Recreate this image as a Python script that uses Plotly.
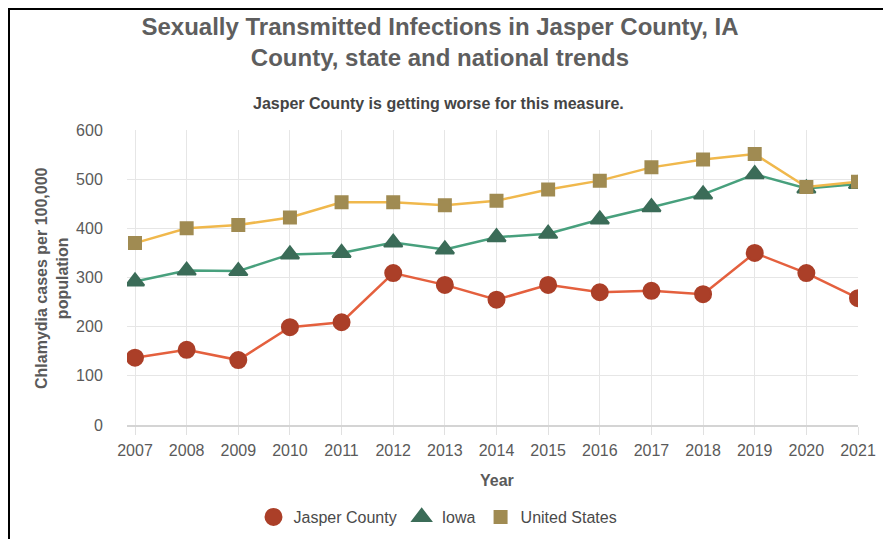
import plotly.graph_objects as go

years = [2007, 2008, 2009, 2010, 2011, 2012, 2013, 2014, 2015, 2016, 2017, 2018, 2019, 2020, 2021]
jasper = [137, 153, 132, 199, 209, 309, 285, 255, 285, 270, 273, 266, 350, 309, 258]
iowa = [292, 314, 313, 347, 350, 371, 357, 382, 389, 418, 443, 469, 510, 481, 490]
usa = [370, 400, 407, 422, 453, 453, 447, 456, 479, 497, 524, 540, 551, 484, 495]
y_ticks = [0, 100, 200, 300, 400, 500, 600]

# the page body has an 8px margin, so the figure is drawn 8px smaller
OFF = 8
W, H = 891 - OFF, 539 - OFF
# plot area in page pixels: x 127..858, y 130..425
L, R, T, B = 127 - OFF, 891 - 858, 130 - OFF, 539 - 425
pw, ph = 858 - 127, 425 - 130


def px(x):  # page x -> paper
    return (x - 127) / pw


def py(y):  # page y -> paper
    return (425 - y) / ph


FONT = "Liberation Sans, Arial, sans-serif"

series = [
    ("Jasper County", jasper, "#e4603e", "circle", 16, "#ab3f28"),
    ("Iowa", iowa, "#48a07d", "triangle-up", 16, "#3b6c58"),
    ("United States", usa, "#f0b84c", "square", 12, "#a08b52"),
]

fig = go.Figure()
for name, vals, lc, sym, sz, mc in series:
    fig.add_trace(go.Scatter(
        x=years, y=vals, name=name, mode="lines", showlegend=False,
        line=dict(color=lc, width=2.5), hoverinfo="skip",
    ))
for name, vals, lc, sym, sz, mc in series:
    fig.add_trace(go.Scatter(
        x=years, y=vals, name=name, mode="markers",
        marker=dict(symbol=sym, size=sz, color=mc, line=dict(color=mc, width=2)),
    ))

fig.update_layout(
    width=W, height=H,
    margin=dict(l=L, r=R, t=T, b=B, autoexpand=False),
    paper_bgcolor="white", plot_bgcolor="white",
    font=dict(family=FONT, size=16, color="#5a5a5a"),
    title=dict(
        text="<b>Sexually Transmitted Infections in Jasper County, IA<br>County, state and national trends</b>",
        x=(440 - OFF) / W, xref="container", xanchor="center",
        y=1 - (35 - OFF) / H, yref="container", yanchor="middle",
        font=dict(family=FONT, size=24, color="#5e5e5e"),
    ),
    xaxis=dict(
        range=[2006.845, 2021], tickvals=years, ticktext=[str(y) for y in years],
        showgrid=True, gridcolor="#e6e6e6", gridwidth=1,
        showline=True, linecolor="#d4d4d4", linewidth=1.5,
        ticks="outside", ticklen=8, tickcolor="#e0e0e0", ticklabelstandoff=2,
        tickfont=dict(size=16, color="#5a5a5a"), zeroline=False,
    ),
    yaxis=dict(
        range=[0, 600], tickvals=y_ticks,
        showgrid=True, gridcolor="#e6e6e6", gridwidth=1,
        showline=False, zeroline=False,
        ticks="outside", ticklen=20, tickcolor="rgba(0,0,0,0)",
        tickfont=dict(size=16, color="#5a5a5a"),
    ),
    legend=dict(
        orientation="h", x=px(438), xanchor="center", y=py(517), yanchor="middle",
        font=dict(size=16, color="#4a4a4a"), itemsizing="trace",
        traceorder="normal", itemwidth=30,
    ),
    showlegend=True,
)

fig.add_annotation(
    text="<b>Jasper County is getting worse for this measure.</b>",
    x=px(438), y=py(103), xref="paper", yref="paper", showarrow=False,
    font=dict(size=16, color="#444444"), xanchor="center", yanchor="middle",
)
fig.add_annotation(
    text="<b>Chlamydia cases per 100,000<br>population</b>",
    x=px(52), y=py(278), xref="paper", yref="paper", showarrow=False,
    textangle=-90, font=dict(size=16, color="#5a5a5a"), xanchor="center", yanchor="middle",
)
fig.add_annotation(
    text="<b>Year</b>",
    x=px(497), y=py(480), xref="paper", yref="paper", showarrow=False,
    font=dict(size=16, color="#5a5a5a"), xanchor="center", yanchor="middle",
)

# scanned frame around the chart
fig.add_shape(
    type="rect", xref="paper", yref="paper",
    x0=px(9), x1=px(885), y0=py(560), y1=py(9),
    line=dict(color="black", width=2), fillcolor="rgba(0,0,0,0)", layer="above",
)

fig.write_html("out.html")
